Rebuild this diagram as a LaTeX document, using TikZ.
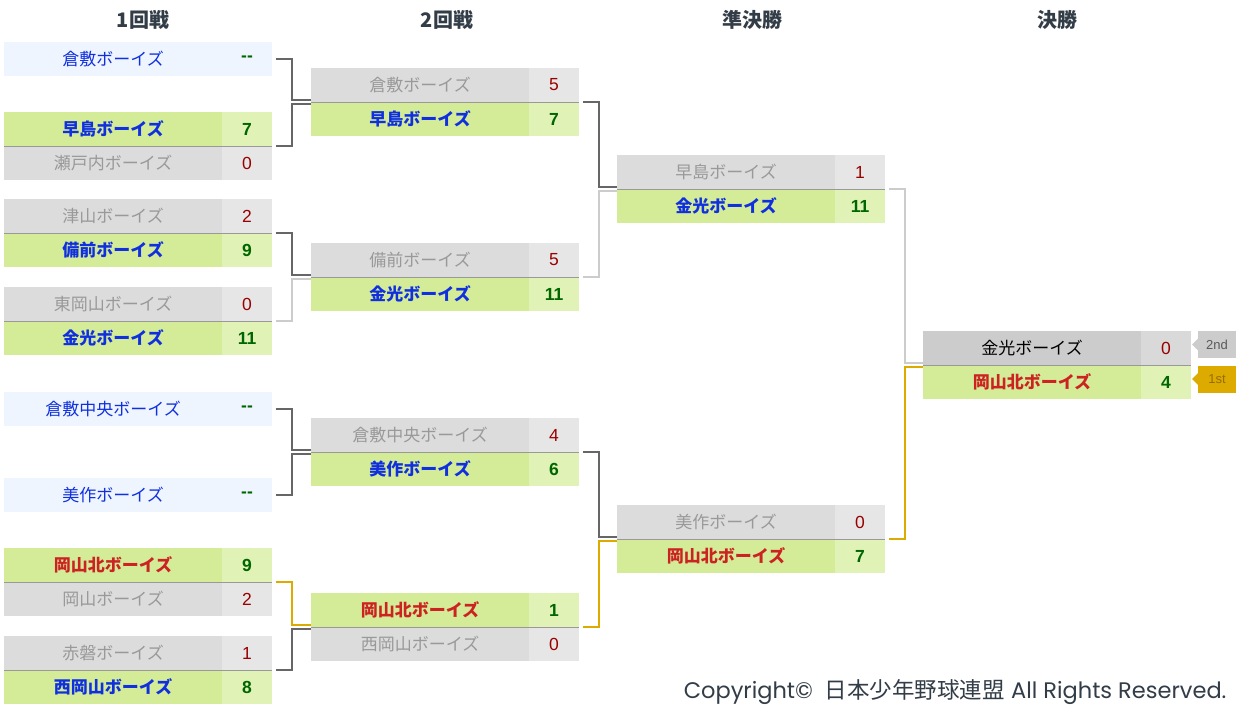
\documentclass[tikz,border=0pt]{standalone}
\usepackage{fontspec}
\usepackage{tikz}
\usetikzlibrary{positioning}
\setmainfont{Liberation Sans}
\newfontfamily\jp{Noto Sans CJK JP}
\newfontfamily\popp{Poppins}
\definecolor{winbg}{RGB}{212,236,152}
\definecolor{winsc}{RGB}{224,242,182}
\definecolor{losebg}{RGB}{220,220,220}
\definecolor{losesc}{RGB}{230,230,230}
\definecolor{byebg}{RGB}{238,245,255}
\definecolor{finbg}{RGB}{204,204,204}
\definecolor{finsc}{RGB}{217,217,217}
\definecolor{teamblue}{RGB}{16,48,224}
\definecolor{teamred}{RGB}{204,34,34}
\definecolor{losetext}{RGB}{153,153,153}
\definecolor{scgreen}{RGB}{0,102,0}
\definecolor{scred}{RGB}{153,0,0}
\definecolor{headtext}{RGB}{51,61,72}
\definecolor{darkline}{RGB}{102,102,102}
\definecolor{lightline}{RGB}{204,204,204}
\definecolor{goldline}{RGB}{221,170,0}
\definecolor{goldtext}{RGB}{150,110,0}

\tikzset{
  team/.style={anchor=north west, minimum width=218pt, minimum height=34pt, inner sep=0pt, outer sep=0pt,
    font=\jp\fontsize{17}{20}\selectfont},
  win/.style={team, fill=winbg, text=teamblue, font=\jp\bfseries\fontsize{17}{20}\selectfont},
  winr/.style={win, text=teamred},
  lose/.style={team, fill=losebg, text=losetext},
  bye/.style={team, fill=byebg, text=teamblue},
  fin/.style={team, fill=finbg, text=black},
  score/.style={minimum width=50pt, minimum height=34pt, inner sep=0pt, outer sep=0pt,
    font=\fontsize{17.5}{20}\selectfont},
  wsc/.style={score, fill=winsc, text=scgreen, font=\bfseries\fontsize{17.5}{20}\selectfont},
  lsc/.style={score, fill=losesc, text=scred},
  byesc/.style={score, fill=byebg, text=scgreen, font=\bfseries\fontsize{17.5}{20}\selectfont},
  finsc/.style={score, fill=finsc, text=scred},
  head/.style={text=headtext, font=\jp\bfseries\fontsize{20}{24}\selectfont},
  sepline/.style={draw=losetext, line width=1pt},
  dk/.style={draw=darkline, line width=2pt},
  lt/.style={draw=lightline, line width=2pt},
  gd/.style={draw=goldline, line width=2pt},
  badge/.style={minimum width=38pt, minimum height=27pt, inner sep=0pt, outer sep=0pt, font=\fontsize{13}{15}\selectfont}
}

\begin{document}
\begin{tikzpicture}[x=1pt,y=-1pt]
\fill[white] (0,0) rectangle (1240,710);
\useasboundingbox (0,0) rectangle (1240,710);

% round headings
\node[head] (t1) at (143,20) {1回戦};
\node[head] (t2) at (447,20) {2回戦};
\node[head] (t3) at (752,20) {準決勝};
\node[head] (t4) at (1057,20) {決勝};

% 1st round
\node[bye] (q1) at (4,42) {倉敷ボーイズ};
\node[byesc, right=0pt of q1] (q1s) {-{}-};
\node[win] (q2t) at (4,112) {早島ボーイズ};
\node[wsc, right=0pt of q2t] (q2ts) {7};
\node[lose] (q2b) at (4,146) {瀬戸内ボーイズ};
\node[lsc, right=0pt of q2b] (q2bs) {0};
\node[lose] (q3t) at (4,199) {津山ボーイズ};
\node[lsc, right=0pt of q3t] (q3ts) {2};
\node[win] (q3b) at (4,233) {備前ボーイズ};
\node[wsc, right=0pt of q3b] (q3bs) {9};
\node[lose] (q4t) at (4,287) {東岡山ボーイズ};
\node[lsc, right=0pt of q4t] (q4ts) {0};
\node[win] (q4b) at (4,321) {金光ボーイズ};
\node[wsc, right=0pt of q4b] (q4bs) {11};
\node[bye] (q5) at (4,392) {倉敷中央ボーイズ};
\node[byesc, right=0pt of q5] (q5s) {-{}-};
\node[bye] (q6) at (4,478) {美作ボーイズ};
\node[byesc, right=0pt of q6] (q6s) {-{}-};
\node[winr] (q7t) at (4,548) {岡山北ボーイズ};
\node[wsc, right=0pt of q7t] (q7ts) {9};
\node[lose] (q7b) at (4,582) {岡山ボーイズ};
\node[lsc, right=0pt of q7b] (q7bs) {2};
\node[lose] (q8t) at (4,636) {赤磐ボーイズ};
\node[lsc, right=0pt of q8t] (q8ts) {1};
\node[win] (q8b) at (4,670) {西岡山ボーイズ};
\node[wsc, right=0pt of q8b] (q8bs) {8};

% 2nd round
\node[lose] (s1t) at (311,68) {倉敷ボーイズ};
\node[lsc, right=0pt of s1t] (s1ts) {5};
\node[win] (s1b) at (311,102) {早島ボーイズ};
\node[wsc, right=0pt of s1b] (s1bs) {7};
\node[lose] (s2t) at (311,243) {備前ボーイズ};
\node[lsc, right=0pt of s2t] (s2ts) {5};
\node[win] (s2b) at (311,277) {金光ボーイズ};
\node[wsc, right=0pt of s2b] (s2bs) {11};
\node[lose] (s3t) at (311,418) {倉敷中央ボーイズ};
\node[lsc, right=0pt of s3t] (s3ts) {4};
\node[win] (s3b) at (311,452) {美作ボーイズ};
\node[wsc, right=0pt of s3b] (s3bs) {6};
\node[winr] (s4t) at (311,593) {岡山北ボーイズ};
\node[wsc, right=0pt of s4t] (s4ts) {1};
\node[lose] (s4b) at (311,627) {西岡山ボーイズ};
\node[lsc, right=0pt of s4b] (s4bs) {0};

% semi finals
\node[lose] (h1t) at (617,155) {早島ボーイズ};
\node[lsc, right=0pt of h1t] (h1ts) {1};
\node[win] (h1b) at (617,189) {金光ボーイズ};
\node[wsc, right=0pt of h1b] (h1bs) {11};
\node[lose] (h2t) at (617,505) {美作ボーイズ};
\node[lsc, right=0pt of h2t] (h2ts) {0};
\node[winr] (h2b) at (617,539) {岡山北ボーイズ};
\node[wsc, right=0pt of h2b] (h2bs) {7};

% final
\node[fin] (f1t) at (923,331) {金光ボーイズ};
\node[finsc, right=0pt of f1t] (f1ts) {0};
\node[winr] (f1b) at (923,365) {岡山北ボーイズ};
\node[wsc, right=0pt of f1b] (f1bs) {4};

% lines between the two rows of a match
\foreach \m in {q2t,q3t,q4t,q7t,q8t,s1t,s2t,s3t,s4t,h1t,h2t,f1t}
  \draw[sepline] (\m.south west) -- (\m s.south east);

% brackets 1st -> 2nd round
\draw[dk] ([xshift=4pt]q1s.east) -- ++(16,0) |- ([yshift=2pt]s1t.south west);
\draw[dk] ([xshift=4pt]q2ts.south east) -- ++(16,0) |- ([yshift=-2pt]s1t.south west);
\draw[dk] ([xshift=4pt]q3ts.south east) -- ++(16,0) |- ([yshift=2pt]s2t.south west);
\draw[lt] ([xshift=4pt]q4ts.south east) -- ++(16,0) |- ([yshift=-2pt]s2t.south west);
\draw[dk] ([xshift=4pt]q5s.east) -- ++(16,0) |- ([yshift=2pt]s3t.south west);
\draw[dk] ([xshift=4pt]q6s.east) -- ++(16,0) |- ([yshift=-2pt]s3t.south west);
\draw[gd] ([xshift=4pt]q7ts.south east) -- ++(16,0) |- ([yshift=2pt]s4t.south west);
\draw[dk] ([xshift=4pt]q8ts.south east) -- ++(16,0) |- ([yshift=-2pt]s4t.south west);

% brackets 2nd round -> semis
\draw[dk] ([xshift=4pt]s1ts.south east) -- ++(16,0) |- ([yshift=2pt]h1t.south west);
\draw[lt] ([xshift=4pt]s2ts.south east) -- ++(16,0) |- ([yshift=-2pt]h1t.south west);
\draw[dk] ([xshift=4pt]s3ts.south east) -- ++(16,0) |- ([yshift=2pt]h2t.south west);
\draw[gd] ([xshift=4pt]s4ts.south east) -- ++(16,0) |- ([yshift=-2pt]h2t.south west);

% brackets semis -> final
\draw[lt] ([xshift=4pt]h1ts.south east) -- ++(16,0) |- ([yshift=2pt]f1t.south west);
\draw[gd] ([xshift=4pt]h2ts.south east) -- ++(16,0) |- ([yshift=-2pt]f1t.south west);

% place badges
\node[badge, fill=finbg, text=black!65] (b2) at (1217,344.5) {2nd};
\fill[finbg] ([yshift=6pt]b2.west) -- ([xshift=-6pt]b2.west) -- ([yshift=-6pt]b2.west) -- cycle;
\node[badge, fill=goldline, text=goldtext] (b1) at (1217,379) {1st};
\fill[goldline] ([yshift=6pt]b1.west) -- ([xshift=-6pt]b1.west) -- ([yshift=-6pt]b1.west) -- cycle;

\node[anchor=base east, text=headtext, font=\fontsize{22.5}{26}\selectfont] (cpr) at (1230,698)
  {{\popp Copyright©}\hspace{12pt}{\jp 日本少年野球連盟} {\popp All Rights Reserved.}};
\end{tikzpicture}
\end{document}
